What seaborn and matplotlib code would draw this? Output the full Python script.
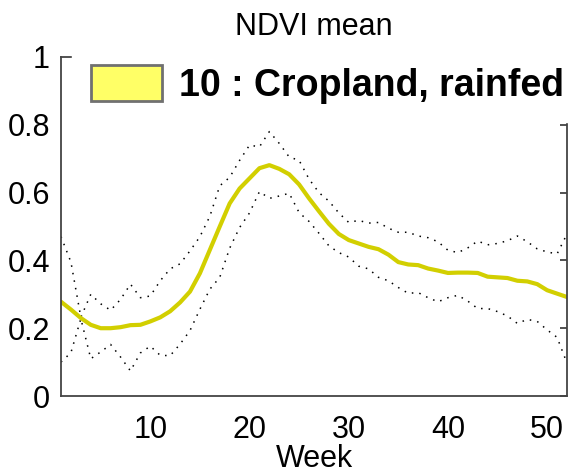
import matplotlib
matplotlib.use('Agg')  # Headless
import matplotlib.pyplot as plt
import seaborn as sns
import pandas as pd
from matplotlib.patches import Patch

sns.set_theme(style="white")
plt.rcParams['font.family'] = ['Liberation Sans', 'DejaVu Sans']
plt.rcParams['text.color'] = 'black'
plt.rcParams['axes.labelcolor'] = 'black'

weeks = list(range(1, 53))
ndvi_mean = [0.278, 0.255, 0.230, 0.210, 0.200, 0.200, 0.203, 0.209, 0.210, 0.220,
             0.232, 0.250, 0.276, 0.308, 0.362, 0.431, 0.500, 0.568, 0.612, 0.642,
             0.672, 0.681, 0.670, 0.654, 0.624, 0.583, 0.545, 0.508, 0.478, 0.460,
             0.450, 0.440, 0.433, 0.417, 0.395, 0.388, 0.386, 0.376, 0.370, 0.363,
             0.364, 0.364, 0.363, 0.352, 0.350, 0.348, 0.340, 0.338, 0.330, 0.312,
             0.302, 0.292]
ndvi_upper = [0.470, 0.395, 0.232, 0.300, 0.272, 0.253, 0.285, 0.330, 0.290, 0.295,
              0.340, 0.375, 0.390, 0.428, 0.470, 0.530, 0.620, 0.645, 0.695, 0.740,
              0.735, 0.780, 0.745, 0.705, 0.695, 0.640, 0.600, 0.575, 0.540, 0.512,
              0.518, 0.510, 0.512, 0.495, 0.483, 0.483, 0.472, 0.467, 0.455, 0.430,
              0.423, 0.437, 0.457, 0.446, 0.450, 0.458, 0.472, 0.455, 0.434, 0.425,
              0.419, 0.478]
ndvi_lower = [0.100, 0.128, 0.228, 0.110, 0.130, 0.152, 0.115, 0.074, 0.127, 0.147,
              0.120, 0.119, 0.153, 0.193, 0.256, 0.315, 0.350, 0.436, 0.497, 0.540,
              0.603, 0.583, 0.590, 0.598, 0.541, 0.515, 0.480, 0.443, 0.423, 0.410,
              0.383, 0.375, 0.350, 0.340, 0.320, 0.303, 0.305, 0.290, 0.278, 0.290,
              0.297, 0.280, 0.258, 0.258, 0.249, 0.236, 0.214, 0.226, 0.220, 0.195,
              0.173, 0.097]

x_ticks = [10, 20, 30, 40, 50]
y_ticks = [0, 0.2, 0.4, 0.6, 0.8, 1.0]
y_tick_labels = ['0', '0.2', '0.4', '0.6', '0.8', '1']
class_label = '10 : Cropland, rainfed'

df = pd.DataFrame({'week': weeks, 'mean': ndvi_mean,
                   'upper': ndvi_upper, 'lower': ndvi_lower})

fig = plt.figure(figsize=(5.74, 4.75), dpi=100)
ax = fig.add_axes([0.1063, 0.1663, 0.8815, 0.7137])

# spread lines (dotted) and the mean curve
sns.lineplot(data=df, x='week', y='upper', ax=ax, color='black', lw=1.1,
             linestyle=(0, (1, 4)))
sns.lineplot(data=df, x='week', y='lower', ax=ax, color='black', lw=1.1,
             linestyle=(0, (1, 4)))
sns.lineplot(data=df, x='week', y='mean', ax=ax, color='#d2cf00', lw=3)

ax.set_xlim(1, 52)
ax.set_ylim(0, 1)
ax.set_xticks(x_ticks)
ax.set_yticks(y_ticks)
ax.set_yticklabels(y_tick_labels)
ax.tick_params(direction='in', length=5, width=1.2, labelsize=22, colors='#333333',
               labelcolor='black', top=True, right=True)
ax.tick_params(axis='x', pad=14)
ax.tick_params(axis='y', pad=8)
for s in ax.spines.values():
    s.set_color('#444444')
    s.set_linewidth(1.3)

ax.set_xlabel('Week', fontsize=22, labelpad=-1, color='black')
ax.set_ylabel('')
ax.set_title('NDVI mean', fontsize=22, pad=16, color='black')

handle = Patch(facecolor='#ffff66', edgecolor='#707070', linewidth=2)
leg = ax.legend([handle], [class_label], loc='upper left',
                bbox_to_anchor=(72 / 574, 1 - 46 / 475), bbox_transform=fig.transFigure,
                prop={'weight': 'bold', 'size': 27}, frameon=True, fancybox=False,
                facecolor='white', edgecolor='white', framealpha=1,
                borderpad=0.5, handlelength=1.9, handleheight=1.1,
                handletextpad=0.45, borderaxespad=0, labelcolor='black')

plt.savefig('out.png', dpi=100)
plt.close()
